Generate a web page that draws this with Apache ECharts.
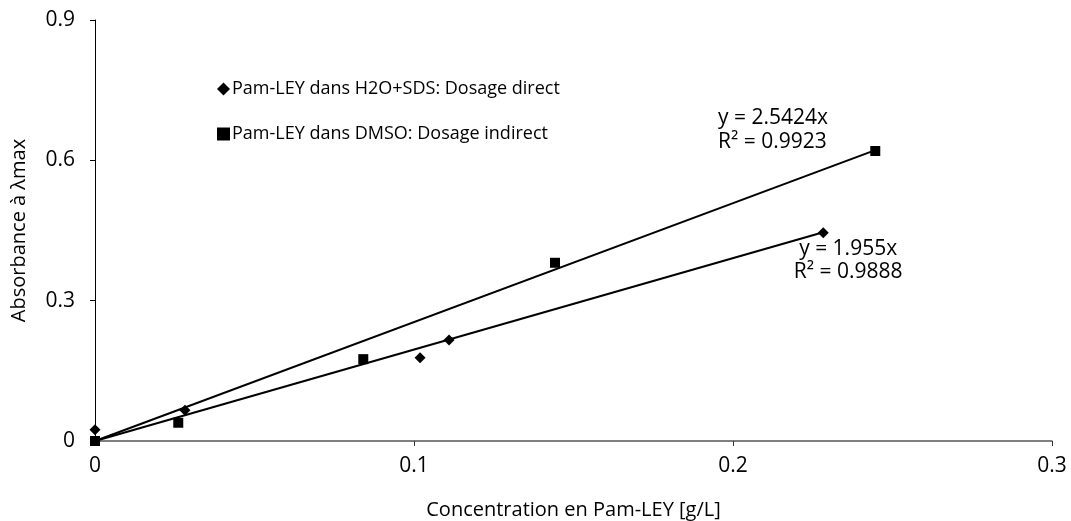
<!DOCTYPE html>
<html>
<head>
<meta charset="utf-8">
<script src="https://cdn.jsdelivr.net/npm/echarts@6/dist/echarts.min.js"></script>
<style>html,body{margin:0;padding:0;background:#fff;}#c{width:1071px;height:521px;}</style>
</head>
<body>
<div id="c"></div>
<script>
var directX = [0, 0.0282, 0.1019, 0.111, 0.2283];
var directY = [0.024, 0.066, 0.178, 0.216, 0.445];
var indirectX = [0, 0.0261, 0.0841, 0.1442, 0.2446];
var indirectY = [0, 0.039, 0.175, 0.381, 0.620];
var slopeDirect = 1.955, r2Direct = '0.9888';
var slopeIndirect = 2.5424, r2Indirect = '0.9923';
var xTicks = [0, 0.1, 0.2, 0.3];
var yTicks = [0, 0.3, 0.6, 0.9];
var nameDirect = 'Pam-LEY dans H2O+SDS: Dosage direct';
var nameIndirect = 'Pam-LEY dans DMSO: Dosage indirect';

function pairs(xs, ys){ return xs.map(function(x,i){ return [x, ys[i]]; }); }
function trend(xs, k){ var m = Math.max.apply(null, xs); return [[0,0],[m, k*m]]; }

var FONT = 'Open Sans';
var chart = echarts.init(document.getElementById('c'));
chart.setOption({
  animation: false,
  backgroundColor: '#fff',
  textStyle: {fontFamily: FONT, color: '#000'},
  grid: {left: 95, right: 19, top: 20, bottom: 80, outerBoundsMode: 'none', containLabel: false},
  legend: {
    orient: 'vertical', left: 212, top: 75, itemGap: 27,
    itemWidth: 13, itemHeight: 13,
    textStyle: {fontFamily: FONT, fontSize: 18, color: '#000', padding: [0,0,0,-3]},
    data: [{name: nameDirect, icon: 'diamond'}, {name: nameIndirect, icon: 'rect'}]
  },
  xAxis: {
    type: 'value', min: 0, max: 0.3, interval: 0.1,
    name: 'Concentration en Pam-LEY [g/L]', nameLocation: 'middle', nameGap: 59,
    nameTextStyle: {fontFamily: FONT, fontSize: 20, color: '#000'},
    axisLine: {show: true, lineStyle: {color: '#555', width: 1.5}},
    axisTick: {show: true, length: 5, lineStyle: {color: '#333'}},
    splitLine: {show: false},
    axisLabel: {fontFamily: FONT, fontSize: 21, color: '#000', margin: 15,
      formatter: function(v){ return xTicks.indexOf(+v.toFixed(2)) >= 0 ? String(+v.toFixed(2)) : ''; }}
  },
  yAxis: {
    type: 'value', min: 0, max: 0.9, interval: 0.3,
    name: 'Absorbance à λmax', nameLocation: 'middle', nameGap: 66,
    nameTextStyle: {fontFamily: FONT, fontSize: 20, color: '#000'},
    axisLine: {show: true, lineStyle: {color: '#000', width: 1}},
    axisTick: {show: true, length: 5, lineStyle: {color: '#000'}},
    splitLine: {show: false},
    axisLabel: {fontFamily: FONT, fontSize: 21, color: '#000', margin: 20,
      formatter: function(v){ return yTicks.indexOf(+v.toFixed(2)) >= 0 ? String(+v.toFixed(2)) : ''; }}
  },
  series: [
    {
      name: 'trendIndirect', type: 'line', data: trend(indirectX, slopeIndirect),
      symbol: 'none', lineStyle: {color: '#000', width: 2}, z: 2, silent: true,
      markPoint: {
        symbol: 'circle', symbolSize: 0,
        data: [{coord: [0.1953, 0.6643], value: 0}],
        label: {show: true, position: 'inside', align: 'left', verticalAlign: 'middle',
          fontFamily: FONT, fontSize: 21, color: '#000', lineHeight: 24,
          formatter: 'y = ' + slopeIndirect + 'x\nR² = ' + r2Indirect}
      }
    },
    {
      name: 'trendDirect', type: 'line', data: trend(directX, slopeDirect),
      symbol: 'none', lineStyle: {color: '#000', width: 2}, z: 2, silent: true,
      markPoint: {
        symbol: 'circle', symbolSize: 0,
        data: [{coord: [0.2361, 0.385], value: 0}],
        label: {show: true, position: 'inside', align: 'center', verticalAlign: 'middle',
          fontFamily: FONT, fontSize: 21, color: '#000', lineHeight: 23,
          formatter: 'y = ' + slopeDirect + 'x\nR² = ' + r2Direct}
      }
    },
    {
      name: nameDirect, type: 'scatter', data: pairs(directX, directY),
      symbol: 'diamond', symbolSize: 11, itemStyle: {color: '#000', opacity: 1}, z: 3
    },
    {
      name: nameIndirect, type: 'scatter', data: pairs(indirectX, indirectY),
      symbol: 'rect', symbolSize: 10, itemStyle: {color: '#000', opacity: 1}, z: 3
    }
  ]
});
</script>
</body>
</html>
